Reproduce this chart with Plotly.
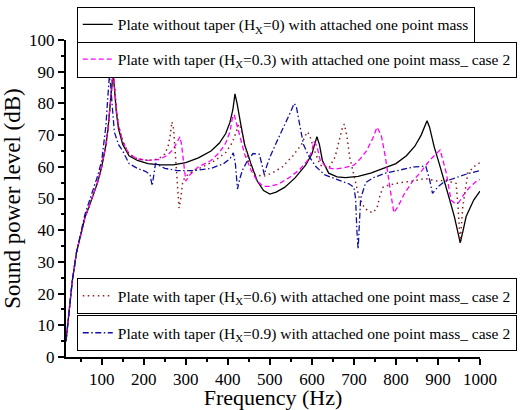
import plotly.graph_objects as go

# ---- data ----
f_h0 = [15, 20, 30, 40, 50, 60, 70, 80, 90, 100, 105, 110, 115, 120, 124, 127, 130, 135, 140, 150, 165, 185, 210, 240, 270, 300, 330, 360, 380, 395, 405, 412, 417, 422, 430, 440, 455, 470, 485, 500, 515, 535, 560, 585, 600, 607, 612, 618, 625, 640, 660, 680, 710, 740, 770, 800, 825, 845, 860, 868, 874, 880, 891, 903, 915, 927, 939, 947, 953, 960, 967, 985, 1000]
spl_h0 = [5, 12, 24, 33, 39, 44, 47.5, 51, 55, 60, 63, 67, 72, 79, 86, 89.7, 85, 77, 72, 67, 63.5, 62, 61, 60.6, 60.6, 61.3, 62.8, 65, 67.5, 70.5, 74, 78, 83, 80, 74, 67, 61, 55.5, 52.5, 51.4, 52, 53.5, 56.5, 60.5, 64, 67, 69.5, 67, 62, 58, 56.8, 56.6, 57, 58, 59.5, 61, 63.5, 66.5, 70, 72.5, 74.5, 72.5, 66.3, 61, 55.8, 50, 44.3, 39.5, 36, 40, 44.3, 49.5, 52.3]

f_h03 = [15, 20, 30, 40, 50, 60, 70, 80, 90, 100, 105, 110, 115, 120, 124, 127, 130, 135, 140, 150, 165, 185, 210, 235, 255, 270, 280, 286, 290, 295, 300, 310, 330, 360, 380, 395, 405, 411, 415, 420, 430, 440, 455, 470, 485, 500, 520, 545, 570, 590, 600, 605, 612, 620, 635, 655, 680, 700, 715, 730, 745, 755, 765, 775, 785, 795, 805, 820, 840, 860, 880, 895, 905, 912, 920, 931, 940, 950, 960, 975, 990, 1000]
spl_h03 = [5, 12, 24, 33, 39, 44, 47.5, 51, 55, 60, 63, 67, 72, 79, 86, 89.7, 86, 78, 73, 68, 64, 62.5, 62, 62.3, 63.5, 65.5, 68, 69.5, 67, 60, 55.5, 57.5, 60, 62, 64.5, 67.5, 71, 75.5, 76.5, 74, 69, 64, 59, 55.5, 53.8, 53.8, 54.5, 56.5, 59, 62, 65, 68, 66.5, 62, 59.8, 59.3, 59.8, 60.5, 62.5, 65, 69, 72.5, 70, 63, 54, 45.5, 47.5, 51.5, 55.5, 58.5, 62, 64, 65.3, 62, 57.9, 49.5, 48.5, 48.8, 51, 53.5, 55.3, 56]

f_h06 = [15, 20, 30, 40, 50, 60, 70, 80, 90, 100, 105, 110, 115, 120, 124, 127, 130, 135, 140, 150, 165, 185, 210, 235, 250, 258, 263, 267, 271, 276, 280, 284, 288, 293, 300, 315, 340, 370, 395, 410, 420, 426, 432, 440, 450, 465, 485, 505, 530, 555, 575, 585, 590, 597, 605, 620, 640, 655, 665, 672, 677, 683, 690, 700, 712, 725, 735, 745, 755, 762, 770, 785, 810, 840, 870, 900, 920, 935, 943, 948, 953, 959, 971, 985, 1000]
spl_h06 = [5, 12, 24, 33, 39, 44, 47.5, 51, 55, 60, 63, 67, 72, 79, 86, 89.7, 86, 78, 73, 68, 64, 62.5, 62, 62.5, 64, 66.5, 70, 74.2, 72, 63, 55, 47, 50, 55.5, 57, 58.5, 60, 62, 64.5, 67.5, 71, 73.5, 72, 67, 61.5, 57.5, 57, 58, 60, 63.5, 67, 70, 71, 69, 65.5, 60.5, 59.5, 63, 68, 72, 73.5, 70, 63, 57, 50.5, 47, 46, 45.5, 47, 51, 53.7, 54.3, 55, 55.5, 56.3, 55.5, 55.8, 55, 54.8, 47, 36, 47.4, 58, 60, 61.3]

f_h09 = [15, 20, 30, 40, 50, 60, 70, 80, 90, 100, 105, 110, 114, 118, 121, 125, 130, 140, 150, 165, 185, 205, 215, 220, 223, 228, 235, 250, 280, 320, 360, 390, 405, 413, 418, 423, 428, 435, 445, 460, 475, 482, 487, 492, 500, 515, 535, 550, 558, 563, 570, 580, 592, 610, 630, 660, 690, 700, 704, 707, 710, 716, 728, 745, 775, 810, 845, 871, 880, 887, 893, 900, 915, 940, 970, 1000]
spl_h09 = [5, 12, 24, 33, 39, 45, 49, 53, 57, 62, 67, 73, 81, 88.4, 86, 78, 71, 67, 65, 61, 59.5, 58.5, 57.5, 54, 56.5, 61, 60.5, 59.5, 58.8, 58.8, 59.5, 61, 62.5, 64.4, 61, 53, 56, 59, 61.5, 64.2, 64, 60, 57.5, 60, 63, 67.5, 73, 77.5, 80, 79, 74, 67, 63.5, 60, 57.5, 56, 54.5, 53.5, 50, 40, 34, 50, 55, 56.5, 58, 59, 60, 60.2, 56, 51.6, 52.5, 53.7, 55.3, 56.5, 57.8, 58.8]

x_ticks = [100, 200, 300, 400, 500, 600, 700, 800, 900, 1000]
y_ticks = [0, 10, 20, 30, 40, 50, 60, 70, 80, 90, 100]

names = [
    "Plate without taper (H<sub>X</sub>=0) with attached one point mass",
    "Plate with taper (H<sub>X</sub>=0.3) with attached one point mass_ case 2",
    "Plate with taper (H<sub>X</sub>=0.6) with attached one point mass_ case 2",
    "Plate with taper (H<sub>X</sub>=0.9) with attached one point mass_ case 2",
]

FONT = "Liberation Serif"

fig = go.Figure()
fig.add_trace(go.Scatter(x=f_h0, y=spl_h0, mode="lines", name=names[0],
                         line=dict(color="black", width=1.3), legend="legend"))
fig.add_trace(go.Scatter(x=f_h03, y=spl_h03, mode="lines", name=names[1],
                         line=dict(color="#FF00FF", width=1.3, dash="5px,3px"), legend="legend2"))
fig.add_trace(go.Scatter(x=f_h06, y=spl_h06, mode="lines", name=names[2],
                         line=dict(color="#8B2020", width=1.5, dash="1.5px,3.5px"), legend="legend3"))
fig.add_trace(go.Scatter(x=f_h09, y=spl_h09, mode="lines", name=names[3],
                         line=dict(color="#1010A0", width=1.3, dash="6px,2.5px,1.5px,2.5px"), legend="legend4"))

leg_common = dict(bgcolor="white", bordercolor="black", borderwidth=1,
                  font=dict(family=FONT, size=15.5, color="black"),
                  xanchor="left", yanchor="top", itemwidth=30,
                  tracegroupgap=0)

fig.update_layout(
    width=528, height=410,
    margin=dict(l=66, r=48, t=40, b=53, autoexpand=False),
    paper_bgcolor="white", plot_bgcolor="white",
    font=dict(family=FONT, color="black"),
    showlegend=True,
    legend=dict(x=0.026, y=1.105, **leg_common),
    legend2=dict(x=0.026, y=0.995, **leg_common),
    legend3=dict(x=0.026, y=0.249, **leg_common),
    legend4=dict(x=0.026, y=0.132, **leg_common),
    xaxis=dict(
        range=[15, 1000], tickvals=x_ticks, ticktext=[str(v) for v in x_ticks],
        showline=True, linecolor="black", linewidth=2, mirror=False,
        ticks="outside", ticklen=6, tickwidth=1.5, tickcolor="black",
        minor=dict(dtick=50, tick0=0, ticks="outside", ticklen=3, tickwidth=1.5, tickcolor="black"),
        showgrid=False, zeroline=False,
        tickfont=dict(family=FONT, size=17, color="black"),
        title=dict(text="Frequency (Hz)", font=dict(family=FONT, size=22, color="black"), standoff=2),
    ),
    yaxis=dict(
        range=[0, 100], tickvals=y_ticks, ticktext=[str(v) for v in y_ticks],
        showline=True, linecolor="black", linewidth=2, mirror=False,
        ticks="outside", ticklen=6, tickwidth=1.5, tickcolor="black",
        minor=dict(dtick=5, tick0=0, ticks="outside", ticklen=3, tickwidth=1.5, tickcolor="black"),
        showgrid=False, zeroline=False,
        tickfont=dict(family=FONT, size=17, color="black"),
        title=dict(text="Sound power level (dB)", font=dict(family=FONT, size=23, color="black"), standoff=2),
    ),
)

fig.write_html("out.html", config={"displayModeBar": False},
               post_script="document.body.style.margin='0px';")
